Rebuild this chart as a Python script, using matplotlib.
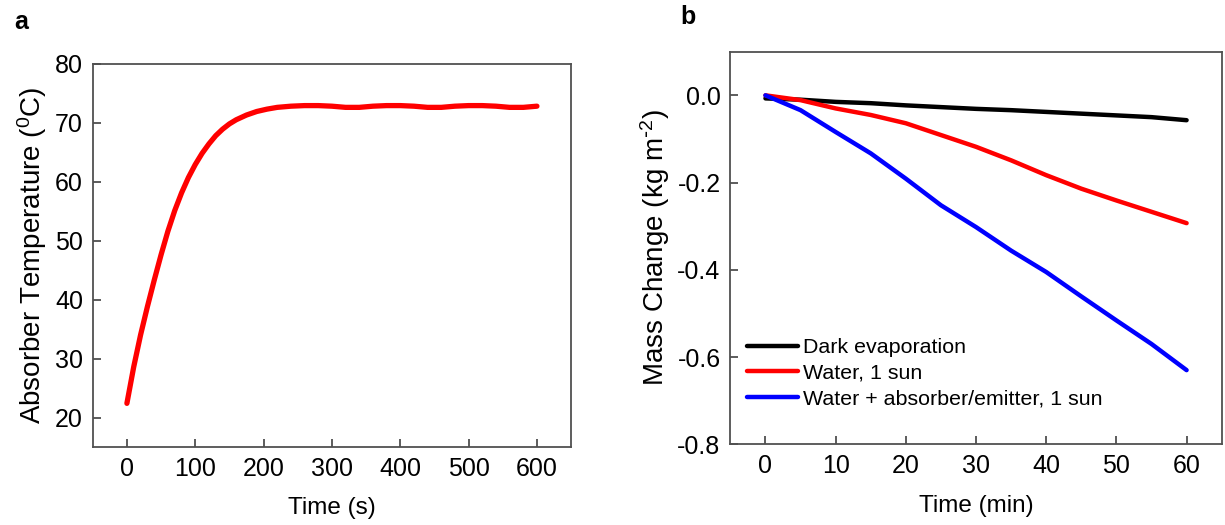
import matplotlib
matplotlib.use("Agg")
import matplotlib.pyplot as plt

plt.rcParams['font.family'] = ['Liberation Sans', 'DejaVu Sans']
plt.rcParams['mathtext.default'] = 'regular'

# Panel a data
time_s = [0, 10, 20, 30, 40, 50, 60, 70, 80, 90, 100, 110, 120, 130, 140, 150,
          160, 175, 190, 205, 220, 240, 260, 280, 300, 320, 340, 360, 380, 400,
          420, 440, 460, 480, 500, 520, 540, 560, 580, 600]
temp_c = [22.4, 28.6, 34.0, 38.8, 43.3, 47.6, 51.6, 55.1, 58.1, 60.7, 62.9, 64.8,
          66.4, 67.8, 68.9, 69.8, 70.5, 71.3, 71.9, 72.3, 72.6, 72.8, 72.9, 72.9,
          72.8, 72.6, 72.6, 72.8, 72.9, 72.9, 72.8, 72.6, 72.6, 72.8, 72.9, 72.9,
          72.8, 72.6, 72.6, 72.8]

# Panel b data
time_min = [0, 5, 10, 15, 20, 25, 30, 35, 40, 45, 50, 55, 60]
dark = [-0.007, -0.010, -0.015, -0.018, -0.023, -0.027, -0.031, -0.034, -0.038,
        -0.042, -0.046, -0.050, -0.057]
water = [0.0, -0.011, -0.030, -0.045, -0.064, -0.091, -0.118, -0.149, -0.183,
         -0.214, -0.241, -0.267, -0.293]
absorber = [0.0, -0.034, -0.084, -0.133, -0.191, -0.252, -0.302, -0.356, -0.405,
            -0.461, -0.516, -0.570, -0.630]
labels_b = ['Dark evaporation', 'Water, 1 sun', 'Water + absorber/emitter, 1 sun']

spine_color = '#505050'
fs = 18
lfs = 17.5
yfs = 20

fig = plt.figure(figsize=(12.25, 5.25), dpi=100)
ax1 = fig.add_axes([0.0757, 0.1486, 0.3905, 0.730])
ax2 = fig.add_axes([0.5962, 0.1537, 0.4011, 0.7478])

def style(ax):
    for s in ax.spines.values():
        s.set_color(spine_color)
        s.set_linewidth(1.3)
    ax.tick_params(direction='in', length=6, width=1.1, color='#303030',
                   labelsize=fs, pad=7)

ax1.plot(time_s, temp_c, color='#ff0000', lw=3.8, solid_capstyle='round')
ax1.set_xlim(-50, 650)
ax1.set_ylim(15, 80)
ax1.set_xticks(range(0, 601, 100))
ax1.set_yticks(range(20, 81, 10))
ax1.set_xlabel('Time (s)', fontsize=lfs, labelpad=12)
ax1.set_ylabel('Absorber Temperature ($^{0}$C)', fontsize=yfs, labelpad=4)
style(ax1)

for y, c, lab in zip([dark, water, absorber], ['#000000', '#ff0000', '#0000ff'], labels_b):
    ax2.plot(time_min, y, color=c, lw=3.2, label=lab, solid_capstyle='round')
ax2.set_xlim(-5, 65)
ax2.set_ylim(-0.8, 0.1)
ax2.set_xticks(range(0, 61, 10))
ax2.set_yticks([-0.8, -0.6, -0.4, -0.2, 0.0])
ax2.set_yticklabels(['-0.8', '-0.6', '-0.4', '-0.2', '0.0'])
ax2.set_xlabel('Time (min)', fontsize=lfs, labelpad=12)
ax2.set_ylabel(r'Mass Change (kg m$^{\text{-}2}$)', fontsize=yfs, labelpad=4)
style(ax2)
ax2.legend(loc='upper left', bbox_to_anchor=(0.034, 0.27), frameon=False,
           fontsize=15.4, handlelength=2.4, handletextpad=0.2, labelspacing=0.3,
           borderpad=0, borderaxespad=0)

fig.text(14 / 1225, 1 - 22 / 525, 'a', fontsize=18, fontweight='bold', va='center', ha='left')
fig.text(680 / 1225, 1 - 17 / 525, 'b', fontsize=18, fontweight='bold', va='center', ha='left')

fig.savefig('out.png', dpi=100)
